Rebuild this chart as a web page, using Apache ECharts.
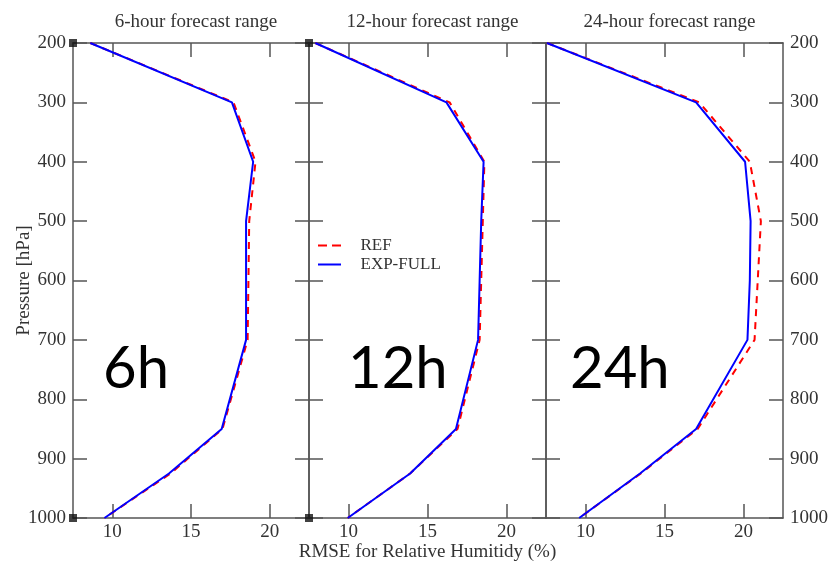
<!DOCTYPE html>
<html><head><meta charset="utf-8">
<script src="https://cdn.jsdelivr.net/npm/echarts@6/dist/echarts.min.js"></script>
<style>html,body{margin:0;padding:0;background:#fff}#c{width:829px;height:562px}</style>
</head><body><div id="c"></div>
<script>
const levels = [200, 300, 400, 500, 600, 700, 850, 925, 1000];
const ref6  = [8.6, 17.7, 19.1, 18.7, 18.65, 18.6, 17.0, 13.7, 9.5];
const exp6  = [8.6, 17.6, 18.95, 18.5, 18.5, 18.5, 16.95, 13.6, 9.5];
const ref12 = [7.9, 16.4, 18.6, 18.5, 18.4, 18.3, 16.9, 13.9, 9.95];
const exp12 = [7.9, 16.2, 18.55, 18.4, 18.3, 18.2, 16.8, 13.9, 9.95];
const ref24 = [7.56, 17.2, 20.4, 21.1, 20.9, 20.7, 17.1, 13.5, 9.6];
const exp24 = [7.56, 17.0, 20.1, 20.45, 20.4, 20.25, 17.0, 13.45, 9.6];
const xTicks = [10, 15, 20];
const cornerMarks = [[7.5, 200], [7.5, 1000], [22.5, 200], [22.5, 1000]];
const panelTitles = ['6-hour forecast range', '12-hour forecast range', '24-hour forecast range'];
const panelTags = ['6h', '12h', '24h'];
const seriesNames = ['REF', 'EXP-FULL'];

const SERIF = '"Liberation Serif","DejaVu Serif",serif';
const TXT = '#333';
const AX = '#555';
const refs = [ref6, ref12, ref24];
const exps = [exp6, exp12, exp24];
const lefts = [73, 309, 546];
const widths = [236, 237, 237];

const chart = echarts.init(document.getElementById('c'));
const grid = [], xAxis = [], yAxis = [], series = [], title = [], graphic = [];
for (let i = 0; i < 3; i++) {
  grid.push({left: lefts[i], top: 43, width: widths[i], height: 475, containLabel: false, outerBoundsMode: 'none'});
  title.push({text: panelTitles[i], left: lefts[i] + widths[i] / 2, top: 8, textAlign: 'center',
    textStyle: {fontFamily: SERIF, fontSize: 19, fontWeight: 'normal', color: TXT}});
  const xb = {type: 'value', gridIndex: i, position: 'bottom', min: 7.5, max: 22.5,
    axisLine: {lineStyle: {color: AX, width: 1.5}},
    axisTick: {inside: true, length: 14, customValues: xTicks, lineStyle: {color: AX, width: 1.5}},
    axisLabel: {customValues: xTicks, fontFamily: SERIF, fontSize: 19, color: TXT, margin: 5},
    splitLine: {show: false}};
  if (i === 1) {
    xb.name = 'RMSE for Relative Humitidy (%)';
    xb.nameLocation = 'middle';
    xb.nameGap = 25;
    xb.nameMoveOverlap = false;
    xb.nameTextStyle = {fontFamily: SERIF, fontSize: 19, color: TXT};
  }
  xAxis.push(xb);
  xAxis.push({type: 'value', gridIndex: i, position: 'top', min: 7.5, max: 22.5,
    axisLine: {lineStyle: {color: AX, width: 1.5}},
    axisTick: {inside: true, length: 14, customValues: xTicks, lineStyle: {color: AX, width: 1.5}},
    axisLabel: {show: false}, splitLine: {show: false}});
  const yl = {type: 'value', gridIndex: i, position: 'left', inverse: true, min: 200, max: 1000, interval: 100,
    axisLine: {show: true, lineStyle: {color: AX, width: 1.5}},
    axisTick: {show: true, inside: true, length: 14, lineStyle: {color: AX, width: 1.5}},
    axisLabel: {show: i === 0, fontFamily: SERIF, fontSize: 19, color: TXT, margin: 7, formatter: v => String(v)},
    splitLine: {show: false}};
  if (i === 0) {
    yl.name = 'Pressure [hPa]';
    yl.nameLocation = 'middle';
    yl.nameGap = 39;
    yl.nameMoveOverlap = false;
    yl.nameTextStyle = {fontFamily: SERIF, fontSize: 19, color: TXT};
  }
  yAxis.push(yl);
  yAxis.push({type: 'value', gridIndex: i, position: 'right', inverse: true, min: 200, max: 1000, interval: 100,
    axisLine: {show: true, lineStyle: {color: AX, width: 1.5}},
    axisTick: {show: true, inside: true, length: 14, lineStyle: {color: AX, width: 1.5}},
    axisLabel: {show: i === 2, fontFamily: SERIF, fontSize: 19, color: TXT, margin: 7, formatter: v => String(v)},
    splitLine: {show: false}});
  series.push({name: seriesNames[0], type: 'line', xAxisIndex: 2 * i, yAxisIndex: 2 * i,
    data: levels.map((p, k) => [refs[i][k], p]), symbol: 'none', clip: false,
    lineStyle: {color: '#ff0000', width: 2, type: [7, 6]}, itemStyle: {color: '#ff0000'}, z: 3});
  series.push({name: seriesNames[1], type: 'line', xAxisIndex: 2 * i, yAxisIndex: 2 * i,
    data: levels.map((p, k) => [exps[i][k], p]), symbol: 'none', clip: false,
    lineStyle: {color: '#0000ff', width: 2}, itemStyle: {color: '#0000ff'}, z: 4});
  graphic.push({type: 'text', left: [103, 348, 570][i], top: 340,
    style: {text: panelTags[i], font: '58px Lato, "Open Sans", sans-serif', fill: '#000'}});
}
series.push({name: 'corners', type: 'scatter', xAxisIndex: 0, yAxisIndex: 0, data: cornerMarks,
  symbol: 'rect', symbolSize: 8, itemStyle: {color: '#111'}, clip: false, silent: true, z: 6});

chart.setOption({
  animation: false,
  backgroundColor: '#fff',
  title, grid, xAxis, yAxis, series, graphic,
  legend: {
    data: [
      {name: seriesNames[0], icon: 'path://M0,0h9v2h-9z M14,0h9v2h-9z', itemStyle: {color: '#ff0000'}},
      {name: seriesNames[1], icon: 'path://M0,0h23v2h-23z', itemStyle: {color: '#0000ff'}}
    ],
    orient: 'vertical', left: 313, top: 232, itemWidth: 24, itemHeight: 2, itemGap: 2,
    textStyle: {fontFamily: SERIF, fontSize: 17, color: TXT, padding: [0, 0, 0, 14]}
  }
});
</script></body></html>
